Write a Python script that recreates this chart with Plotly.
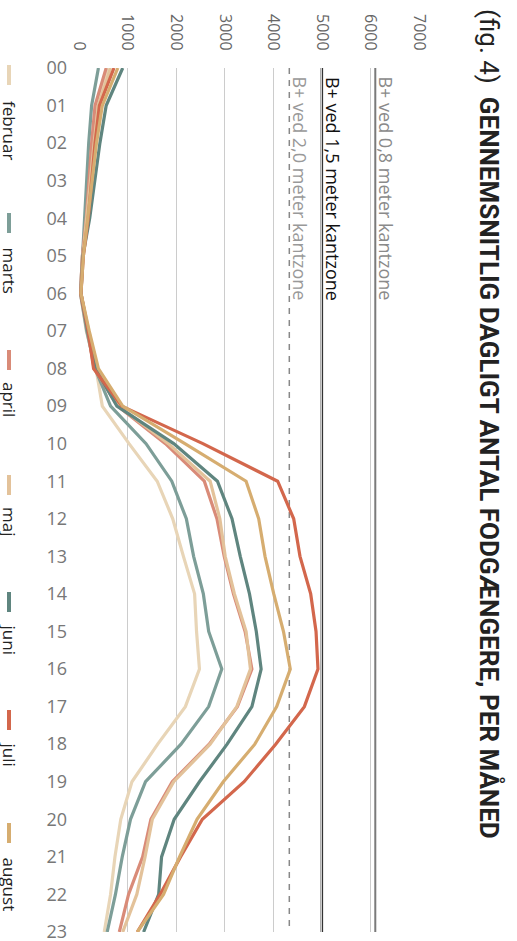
import plotly.graph_objects as go

# --- data ---------------------------------------------------------------
hours = list(range(24))
hour_labels = [f"{h:02d}" for h in hours]

months = ["februar", "marts", "april", "maj", "juni", "juli", "august"]
februar = [600, 380, 300, 230, 160, 70, 30, 150, 350, 480, 1030, 1610, 1930, 2150, 2380, 2420, 2480, 2190, 1620, 1090, 860, 740, 650, 520]
marts = [400, 260, 200, 160, 110, 70, 30, 160, 330, 650, 1380, 1910, 2210, 2360, 2560, 2670, 2940, 2670, 2100, 1370, 1060, 890, 750, 580]
april = [560, 330, 260, 200, 150, 70, 30, 180, 310, 800, 1780, 2580, 2840, 2990, 3180, 3420, 3560, 3260, 2680, 1920, 1480, 1310, 1020, 830]
maj = [650, 400, 310, 230, 160, 80, 40, 200, 380, 820, 1840, 2700, 2900, 3010, 3200, 3440, 3530, 3250, 2700, 1950, 1510, 1360, 1190, 900]
juni = [900, 560, 430, 320, 220, 80, 40, 180, 340, 780, 1950, 2850, 3150, 3320, 3510, 3650, 3750, 3560, 3050, 2480, 1960, 1700, 1640, 1330]
juli = [720, 420, 330, 260, 190, 90, 40, 190, 300, 880, 2550, 4090, 4420, 4550, 4770, 4880, 4920, 4640, 4050, 3400, 2540, 2090, 1670, 1200]
august = [800, 480, 360, 270, 190, 90, 40, 210, 400, 900, 2180, 3440, 3700, 3830, 4010, 4210, 4350, 4070, 3620, 2970, 2430, 2070, 1740, 1200]
series = [februar, marts, april, maj, juni, juli, august]

value_ticks = [0, 1000, 2000, 3000, 4000, 5000, 6000, 7000]

ref_values = [6100, 5000, 4330]
ref_labels = ["B+ ved 0,8 meter kantzone", "B+ ved 1,5 meter kantzone", "B+ ved 2,0 meter kantzone"]

title = "(fig. 4)  <b>GENNEMSNITLIG DAGLIGT ANTAL FODGÆNGERE, PER MÅNED</b>"

# --- styling ------------------------------------------------------------
colors = ["#e8d5b7", "#7d9e98", "#d98b78", "#e3c29a", "#5f857f", "#d3674c", "#d6ad70"]
ref_styles = [dict(color="#7a7a7a", width=2, dash="solid"),
              dict(color="#333333", width=2.5, dash="solid"),
              dict(color="#888888", width=1.5, dash="6px,6px")]
ref_text_colors = ["#8a8a8a", "#111111", "#999999"]

W, H = 517, 941
L, R, T, B = 79, 98, 68, 9
PW, PH = W - L - R, H - T - B


def px_x(x):
    return (x - L) / PW


def px_y(y):
    return 1 - (y - T) / PH


FONT = "Open Sans, Lato, sans-serif"

fig = go.Figure()

for name, vals, c in zip(months, series, colors):
    fig.add_trace(go.Scatter(x=vals, y=hours, mode="lines", name=name,
                             line=dict(color=c, width=3.2), showlegend=False,
                             cliponaxis=False))

# reference lines (rotated chart: vertical here)
for v, lbl, st, tc in zip(ref_values, ref_labels, ref_styles, ref_text_colors):
    fig.add_shape(type="line", x0=v, x1=v, y0=0, y1=23, xref="x", yref="y",
                  line=st, layer="below")
    fig.add_annotation(x=v, y=0.18, text=lbl, textangle=90, showarrow=False,
                       xanchor="center", yanchor="top", xshift=11,
                       font=dict(family=FONT, size=18, color=tc))

# title, rotated
fig.add_annotation(x=px_x(490), y=px_y(7), xref="paper", yref="paper",
                   text=title, textangle=90, showarrow=False,
                   xanchor="center", yanchor="top",
                   font=dict(family="Liberation Sans Narrow, Roboto, sans-serif", size=26, color="#222222"))

# legend, drawn by hand because it is rotated (swatch top, text top in px)
legend_pos = [(65, 99), (213, 245), (350, 380), (475, 505), (592, 622), (710, 740), (823, 855)]
for name, c, (sy, ty) in zip(months, colors, legend_pos):
    fig.add_shape(type="line", xref="paper", yref="paper",
                  x0=px_x(9), x1=px_x(9), y0=px_y(sy), y1=px_y(sy + 20),
                  line=dict(color=c, width=4))
    fig.add_annotation(x=px_x(9.5), y=px_y(ty), xref="paper", yref="paper",
                       text=name, textangle=90, showarrow=False,
                       xanchor="center", yanchor="top",
                       font=dict(family=FONT, size=17, color="#222222"))

fig.update_layout(
    width=W, height=H,
    margin=dict(l=L, r=R, t=T, b=B),
    plot_bgcolor="white", paper_bgcolor="white",
    showlegend=False,
    xaxis=dict(range=[0, 7000], side="top", tickvals=value_ticks,
               tickangle=90, showgrid=True, gridcolor="#cccccc", gridwidth=1,
               zeroline=False, showline=False, ticks="", ticklabelstandoff=14,
               automargin=False, ticklabeloverflow="allow",
               tickfont=dict(family=FONT, size=16, color="#666666")),
    yaxis=dict(range=[23, 0], tickvals=hours, ticktext=hour_labels,
               showgrid=False, zeroline=False, showline=False, ticks="",
               ticklabelstandoff=11, automargin=False, ticklabeloverflow="allow",
               tickfont=dict(family=FONT, size=18, color="#777777")),
)

# drop the default 8px body margin so the figure sits at the window corner
fig.write_html("out.html", config={"displayModeBar": False},
               post_script="document.body.style.margin = '0';")
